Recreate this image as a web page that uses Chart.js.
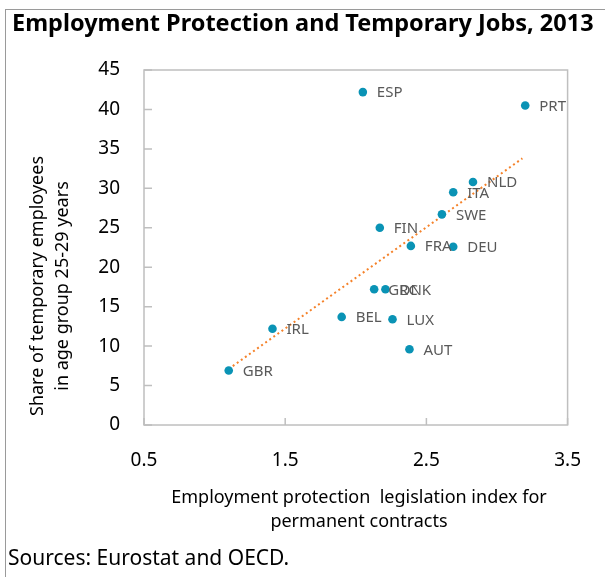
<!DOCTYPE html>
<html>
<head>
<meta charset="utf-8">
<script src="https://cdn.jsdelivr.net/npm/chart.js@4"></script>
<style>
  html, body { margin: 0; padding: 0; background: #fff; }
  #wrap { position: relative; width: 605px; height: 577px; overflow: hidden; }
  #frame { position: absolute; left: 5px; top: 9px; width: 620px; height: 600px;
           border-top: 1.5px solid #9a9a9a; border-left: 1.5px solid #9a9a9a; }
  #title { position: absolute; left: 12px; top: 6px; font: bold 23.5px "Noto Sans", sans-serif;
           color: #000; white-space: nowrap; }
  #source { position: absolute; left: 8px; top: 543px; font: 21px "Noto Sans", sans-serif;
            color: #000; white-space: nowrap; }
  canvas { position: absolute; left: 0; top: 0; }
</style>
</head>
<body>
<div id="wrap">
  <div id="frame"></div>
  <canvas id="chart" width="605" height="577"></canvas>
  <div id="title">Employment Protection and Temporary Jobs, 2013</div>
  <div id="source">Sources: Eurostat and OECD.</div>
</div>
<script>
// Pays, indice EPL (x) et part des emplois temporaires 25-29 ans (y)
const countries = ['ESP', 'PRT', 'NLD', 'ITA', 'SWE', 'FIN', 'FRA', 'DEU', 'GRC', 'DNK', 'BEL', 'LUX', 'IRL', 'AUT', 'GBR'];
const eplIndex = [2.05, 3.20, 2.83, 2.69, 2.61, 2.17, 2.39, 2.69, 2.13, 2.21, 1.90, 2.26, 1.41, 2.38, 1.10];
const tempShare = [42.2, 40.5, 30.8, 29.5, 26.7, 25.0, 22.7, 22.6, 17.2, 17.2, 13.7, 13.4, 12.2, 9.6, 6.9];

// Droite de tendance (extrémités)
const trendX = [1.10, 3.18];
const trendY = [7.1, 33.8];

const xTicks = [0.5, 1.5, 2.5, 3.5];
const yTicks = [0, 5, 10, 15, 20, 25, 30, 35, 40, 45];

const yTitle = ['Share of temporary employees', 'in age group 25-29 years'];
const xTitle = ['Employment protection  legislation index for', 'permanent contracts'];

const FONT = '"Noto Sans", sans-serif';

/**
 * Étiquettes des pays, bordure du graphique, graduations et titres des axes.
 */
const decorPlugin = {
    id: 'decor',
    afterDatasetsDraw(chart) {
        const ctx = chart.ctx;
        const area = chart.chartArea;
        const xs = chart.scales.x;
        const ys = chart.scales.y;
        ctx.save();

        // bordure + graduations internes
        ctx.strokeStyle = '#bfbfbf';
        ctx.lineWidth = 1.5;
        ctx.strokeRect(area.left, area.top, area.right - area.left, area.bottom - area.top);
        ctx.beginPath();
        yTicks.forEach(v => {
            const py = ys.getPixelForValue(v);
            ctx.moveTo(area.left, py);
            ctx.lineTo(area.left + 8, py);
        });
        xTicks.forEach(v => {
            const px = xs.getPixelForValue(v);
            ctx.moveTo(px, area.bottom);
            ctx.lineTo(px, area.bottom - 7);
        });
        ctx.stroke();

        // étiquettes des points
        const meta = chart.getDatasetMeta(0);
        ctx.fillStyle = '#595959';
        ctx.font = '15px ' + FONT;
        ctx.textAlign = 'left';
        ctx.textBaseline = 'middle';
        meta.data.forEach((pt, i) => {
            ctx.fillText(countries[i], pt.x + 14, pt.y + 1);
        });

        // titres des axes
        ctx.fillStyle = '#000';
        ctx.font = '18px ' + FONT;
        ctx.textAlign = 'center';
        ctx.fillText(xTitle[0], 359, 498);
        ctx.fillText(xTitle[1], 359, 522);
        ctx.translate(38, 286);
        ctx.rotate(-Math.PI / 2);
        ctx.fillText(yTitle[0], 0, 0);
        ctx.fillText(yTitle[1], 0, 25);
        ctx.restore();
    }
};

function getChartData() {
    return {
        datasets: [{
            label: 'Countries',
            data: eplIndex.map((x, i) => ({ x: x, y: tempShare[i] })),
            backgroundColor: '#0a93b5',
            borderWidth: 0,
            pointRadius: 4.3,
            order: 1
        }, {
            label: 'Trend',
            data: trendX.map((x, i) => ({ x: x, y: trendY[i] })),
            showLine: true,
            borderColor: '#f5822a',
            borderWidth: 2,
            borderDash: [2, 3],
            pointRadius: 0,
            order: 2
        }]
    };
}

function getChartOptions() {
    return {
        responsive: false,
        animation: false,
        layout: { padding: { top: 70, right: 36, bottom: 0, left: 0 } },
        plugins: { legend: { display: false }, tooltip: { enabled: false } },
        scales: {
            x: {
                type: 'linear',
                min: 0.5, max: 3.5,
                afterFit: s => { s.height = 152; },
                afterBuildTicks: s => { s.ticks = xTicks.map(v => ({ value: v })); },
                grid: { display: false, drawTicks: false },
                border: { display: false },
                ticks: { color: '#000', font: { family: FONT, size: 19 }, padding: 24,
                         callback: v => v.toFixed(1) }
            },
            y: {
                type: 'linear',
                min: 0, max: 45,
                afterFit: s => { s.width = 144; },
                afterBuildTicks: s => { s.ticks = yTicks.map(v => ({ value: v })); },
                grid: { display: false, drawTicks: false },
                border: { display: false },
                ticks: { color: '#000', font: { family: FONT, size: 19 }, padding: 24 }
            }
        }
    };
}

const ctx = document.getElementById('chart').getContext('2d');
new Chart(ctx, {
    type: 'scatter',
    data: getChartData(),
    options: getChartOptions(),
    plugins: [decorPlugin]
});
</script>
</body>
</html>
